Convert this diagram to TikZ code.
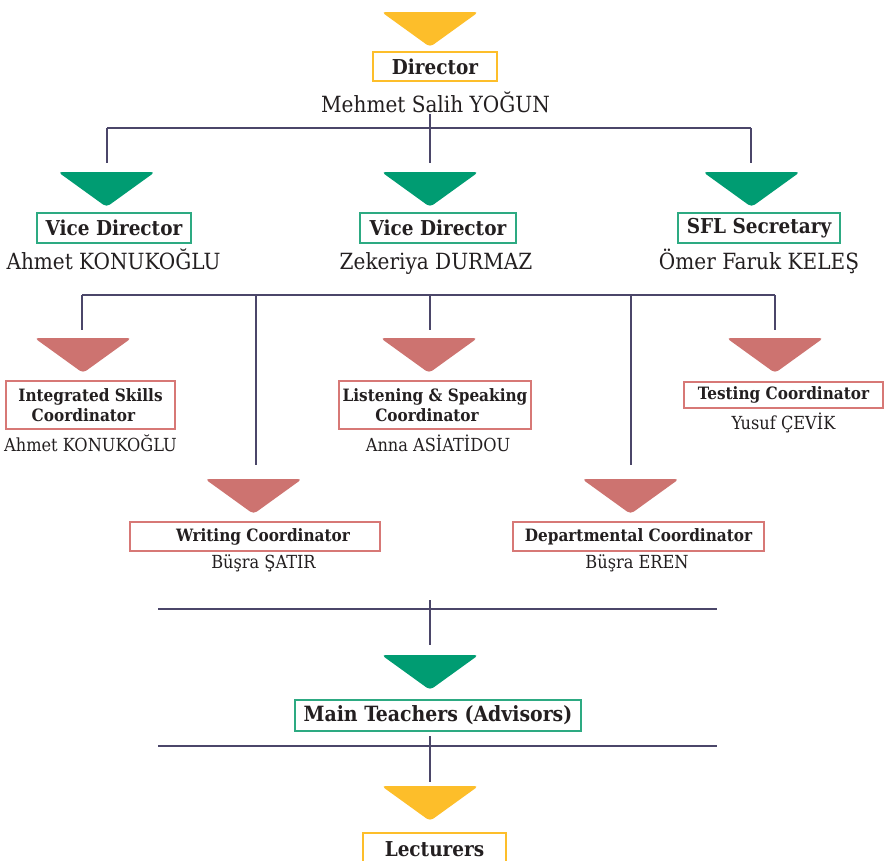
\documentclass[tikz,border=0pt]{standalone}
\usepackage{fontspec}
\setmainfont{DejaVu Serif Condensed}
\definecolor{ylw}{RGB}{253,190,42}
\definecolor{grn}{RGB}{0,156,114}
\definecolor{grnl}{RGB}{45,170,130}
\definecolor{rd}{RGB}{205,115,112}
\definecolor{rdl}{RGB}{215,120,118}
\definecolor{ln}{RGB}{75,70,105}
\definecolor{txt}{RGB}{35,31,32}
\newcommand\tri[3]{\fill[#3, rounded corners=4pt] (#1-48.5,#2) -- (#1+48.5,#2) -- (#1,#2+35) -- cycle;}
\tikzset{
  bigt/.style={draw, line width=1.2pt, inner sep=0pt, align=center, text=txt, font=\fontsize{20.5}{24}\selectfont\bfseries},
  smallt/.style={draw, line width=1.2pt, inner sep=0pt, align=center, text=txt, font=\fontsize{17}{20}\selectfont\bfseries},
  bign/.style={anchor=base, inner sep=0pt, text=txt, font=\fontsize{22.3}{26}\selectfont},
  smalln/.style={anchor=base, inner sep=0pt, text=txt, font=\fontsize{18}{22}\selectfont},
  conn/.style={draw=ln, line width=1.3pt},
}
\begin{document}
\begin{tikzpicture}[x=1pt,y=-1pt]
\useasboundingbox (0,0) rectangle (886,860);
\fill[white] (0,0) rectangle (886,860);
% triangles
\tri{430}{12}{ylw}
\tri{106.5}{172}{grn}
\tri{430}{172}{grn}
\tri{751.5}{172}{grn}
\tri{83}{338}{rd}
\tri{429}{338}{rd}
\tri{775}{338}{rd}
\tri{253.5}{479}{rd}
\tri{630.5}{479}{rd}
\tri{430}{655}{grn}
\tri{430}{786}{ylw}
% boxes
\node[bigt, draw=ylw, minimum width=124pt, minimum height=29pt] (dir) at (435,66.5) {Director};
\node[bign] (dirn) at (435.5,112) {Mehmet Salih YOĞUN};
\node[bigt, draw=grnl, minimum width=154pt, minimum height=30pt] (vd1) at (114,228) {Vice Director};
\node[bign] (vd1n) at (113.5,269) {Ahmet KONUKOĞLU};
\node[bigt, draw=grnl, minimum width=156pt, minimum height=30pt] (vd2) at (438,228) {Vice Director};
\node[bign] (vd2n) at (436,269) {Zekeriya DURMAZ};
\node[bigt, draw=grnl, minimum width=162pt, minimum height=30pt] (sfl) at (759,228) {SFL Secretary};
\node[bign] (sfln) at (759,269) {Ömer Faruk KELEŞ};
\node[smallt, draw=rdl, minimum width=169pt, minimum height=48pt] (isc) at (90.5,405) {Integrated Skills\\Coordinator\hspace*{14pt}};
\node[smalln] (iscn) at (90.5,451) {Ahmet KONUKOĞLU};
\node[smallt, draw=rdl, minimum width=192pt, minimum height=48pt] (lsc) at (435,405) {Listening \& Speaking\\Coordinator\hspace*{16pt}};
\node[smalln] (lscn) at (438,451) {Anna ASİATİDOU};
\node[smallt, draw=rdl, minimum width=199pt, minimum height=26pt] (tc) at (783.5,395) {Testing Coordinator};
\node[smalln] (tcn) at (783.5,429) {Yusuf ÇEVİK};
\node[smallt, draw=rdl, minimum width=250pt, minimum height=29pt] (wc) at (255,536.5) {\hspace*{16pt}Writing Coordinator};
\node[smalln] (wcn) at (263.5,568) {Büşra ŞATIR};
\node[smallt, draw=rdl, minimum width=251pt, minimum height=29pt] (dc) at (638.5,536.5) {Departmental Coordinator};
\node[smalln] (dcn) at (637,568) {Büşra EREN};
\node[bigt, draw=grnl, minimum width=286pt, minimum height=31pt, font=\fontsize{21}{24}\selectfont\bfseries] (mt) at (438,715.5) {Main Teachers (Advisors)};
\node[bigt, draw=ylw, minimum width=143pt, minimum height=32pt] (lec) at (434.5,849) {Lecturers};
% connector coordinates
\coordinate (a0) at (430,114);
\coordinate (a1) at (430,128);
\coordinate (b1) at (107,128);
\coordinate (b3) at (751,128);
\coordinate (d1) at (107,163);
\coordinate (d2) at (430,163);
\coordinate (d3) at (751,163);
\draw[conn] (a0) -- (a1);
\draw[conn] (b1) -- (b3);
\draw[conn] (b1) -- (d1);
\draw[conn] (a1) -- (d2);
\draw[conn] (b3) -- (d3);
\coordinate (c1) at (82,295);
\coordinate (c2) at (256,295);
\coordinate (c3) at (430,295);
\coordinate (c4) at (631,295);
\coordinate (c5) at (775,295);
\draw[conn] (c1) -- (c5);
\draw[conn] (c1) -- (82,330);
\draw[conn] (c2) -- (256,465);
\draw[conn] (c3) -- (430,330);
\draw[conn] (c4) -- (631,465);
\draw[conn] (c5) -- (775,330);
\coordinate (e1) at (158,609);
\coordinate (e2) at (717,609);
\coordinate (e3) at (430,600);
\coordinate (e4) at (430,645);
\draw[conn] (e1) -- (e2);
\draw[conn] (e3) -- (e4);
\coordinate (f1) at (158,746);
\coordinate (f2) at (717,746);
\coordinate (f3) at (430,736);
\coordinate (f4) at (430,782);
\draw[conn] (f1) -- (f2);
\draw[conn] (f3) -- (f4);
\end{tikzpicture}
\end{document}
